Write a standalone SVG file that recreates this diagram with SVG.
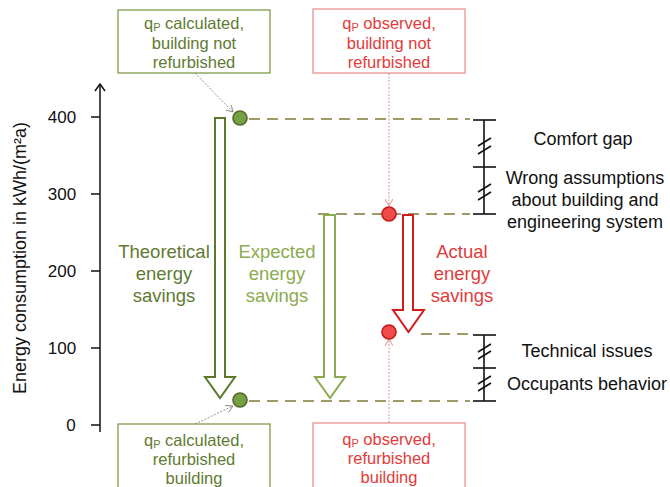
<svg xmlns="http://www.w3.org/2000/svg" width="670" height="487" viewBox="0 0 670 487">
<defs>
<style>
text{font-family:"Liberation Sans",Arial,sans-serif;text-anchor:middle}
.lab{font-size:16.5px}
.big{font-size:18.5px}
.blk{font-size:18px;fill:#111}
.num{font-size:17px;fill:#111}
.dash{stroke:#a09a66;stroke-width:2.2;stroke-dasharray:11,7;fill:none}
.br{stroke:#111;stroke-width:1.6;fill:none}
.gbox{fill:#fff;stroke:#76923c;stroke-width:1.2}
.rbox{fill:#fff;stroke:#e58a8a;stroke-width:1.2}
.gt{fill:#5f7a31}
.rt{fill:#e23b3b}
.gc{fill:#77a044;stroke:#4f6b28;stroke-width:1.6}
.rc{fill:#f04a4a;stroke:#c01818;stroke-width:1.6}
</style>
<marker id="ag" markerWidth="8" markerHeight="8" refX="7" refY="4" orient="auto" markerUnits="userSpaceOnUse"><path d="M0,0 L7,4 L0,8" fill="none" stroke="#777" stroke-width="0.8"/></marker>
<marker id="ar" markerWidth="8" markerHeight="8" refX="7" refY="4" orient="auto" markerUnits="userSpaceOnUse"><path d="M0,0 L7,4 L0,8" fill="none" stroke="#e07070" stroke-width="0.8"/></marker>
</defs>

<g id="axis">
<line x1="100" y1="84" x2="100" y2="432" stroke="#111" stroke-width="1.5"/>
<path d="M95,91 L100,84 L105,91" fill="none" stroke="#111" stroke-width="1.5"/>
<line x1="91" y1="117" x2="100" y2="117" stroke="#111" stroke-width="1.5"/>
<line x1="91" y1="194" x2="100" y2="194" stroke="#111" stroke-width="1.5"/>
<line x1="91" y1="271" x2="100" y2="271" stroke="#111" stroke-width="1.5"/>
<line x1="91" y1="348" x2="100" y2="348" stroke="#111" stroke-width="1.5"/>
<line x1="91" y1="425" x2="100" y2="425" stroke="#111" stroke-width="1.5"/>
<text class="num" x="62" y="123">400</text>
<text class="num" x="62" y="200">300</text>
<text class="num" x="62" y="277">200</text>
<text class="num" x="62" y="354">100</text>
<text class="num" x="71" y="431">0</text>
<text class="blk" transform="translate(26,258) rotate(-90)">Energy consumption in kWh/(m²a)</text>
</g>

<g id="connectors">
<line class="dash" x1="249" y1="119" x2="470" y2="119"/>
<line class="dash" x1="318" y1="214" x2="470" y2="214"/>
<line class="dash" x1="421" y1="334" x2="470" y2="334"/>
<line class="dash" x1="249" y1="401" x2="470" y2="401"/>
<line x1="195" y1="73" x2="233" y2="112" stroke="#777" stroke-width="0.8" stroke-dasharray="2,1.5" marker-end="url(#ag)"/>
<line x1="195" y1="424" x2="233" y2="406" stroke="#777" stroke-width="0.8" stroke-dasharray="2,1.5" marker-end="url(#ag)"/>
<line x1="389" y1="73" x2="389" y2="206" stroke="#e07070" stroke-width="0.8" stroke-dasharray="2,1.5" marker-end="url(#ar)"/>
<line x1="389" y1="423" x2="389" y2="339" stroke="#e07070" stroke-width="0.8" stroke-dasharray="2,1.5" marker-end="url(#ar)"/>
</g>

<g id="arrow-theoretical">
<path d="M215,118 L225,118 L225,377 L235,377 L220,398 L205,377 L215,377 Z" fill="#fff" stroke="#5a7a2a" stroke-width="2"/>
</g>
<g id="arrow-expected">
<path d="M324,215 L335,215 L335,377 L345,377 L330,398 L315,377 L324,377 Z" fill="#fff" stroke="#8aab4f" stroke-width="2"/>
</g>
<g id="arrow-actual">
<path d="M403,215 L413,215 L413,310 L424,310 L408.5,332 L393,310 L403,310 Z" fill="#fff" stroke="#d01c1c" stroke-width="2"/>
</g>

<g id="points">
<circle class="gc" cx="240" cy="118" r="7"/>
<circle class="gc" cx="240" cy="400" r="7"/>
<circle class="rc" cx="389" cy="214" r="7"/>
<circle class="rc" cx="389" cy="332" r="7"/>
</g>

<g id="bracket-upper">
<line class="br" x1="484" y1="120" x2="484" y2="214"/>
<line class="br" x1="473" y1="120" x2="496" y2="120"/>
<line class="br" x1="473" y1="167" x2="496" y2="167"/>
<line class="br" x1="473" y1="214" x2="496" y2="214"/>
<line class="br" x1="478" y1="146" x2="491" y2="138"/>
<line class="br" x1="478" y1="154" x2="491" y2="146"/>
<line class="br" x1="478" y1="192" x2="491" y2="184"/>
<line class="br" x1="478" y1="200" x2="491" y2="192"/>
</g>
<g id="bracket-lower">
<line class="br" x1="484" y1="335" x2="484" y2="401"/>
<line class="br" x1="473" y1="335" x2="496" y2="335"/>
<line class="br" x1="473" y1="368" x2="496" y2="368"/>
<line class="br" x1="473" y1="401" x2="496" y2="401"/>
<line class="br" x1="478" y1="352" x2="491" y2="344"/>
<line class="br" x1="478" y1="359" x2="491" y2="351"/>
<line class="br" x1="478" y1="384" x2="491" y2="376"/>
<line class="br" x1="478" y1="391" x2="491" y2="383"/>
</g>

<g id="label-comfort"><text class="blk" x="583" y="145">Comfort gap</text></g>
<g id="label-wrong">
<text class="blk" x="585" y="184">Wrong assumptions</text>
<text class="blk" x="585" y="206">about building and</text>
<text class="blk" x="585" y="228">engineering system</text>
</g>
<g id="label-technical"><text class="blk" x="587" y="357">Technical issues</text></g>
<g id="label-occupants"><text class="blk" x="587" y="390">Occupants behavior</text></g>

<g id="label-theoretical" class="gt">
<text class="big" x="164" y="258">Theoretical</text>
<text class="big" x="164" y="280">energy</text>
<text class="big" x="164" y="302">savings</text>
</g>
<g id="label-expected" style="fill:#8aab4f">
<text class="big" x="277" y="258">Expected</text>
<text class="big" x="277" y="280">energy</text>
<text class="big" x="277" y="302">savings</text>
</g>
<g id="label-actual" class="rt">
<text class="big" x="462" y="258">Actual</text>
<text class="big" x="462" y="280">energy</text>
<text class="big" x="462" y="302">savings</text>
</g>

<g id="box-calc-not">
<rect class="gbox" x="118" y="10" width="152" height="63"/>
<text class="lab gt" x="194" y="29">q<tspan font-size="11" dy="2">P</tspan><tspan dy="-2"> calculated,</tspan></text>
<text class="lab gt" x="194" y="49">building not</text>
<text class="lab gt" x="194" y="68">refurbished</text>
</g>
<g id="box-obs-not">
<rect class="rbox" x="313" y="9" width="152" height="64"/>
<text class="lab rt" x="389" y="29">q<tspan font-size="11" dy="2">P</tspan><tspan dy="-2"> observed,</tspan></text>
<text class="lab rt" x="389" y="49">building not</text>
<text class="lab rt" x="389" y="68">refurbished</text>
</g>
<g id="box-calc-ref">
<rect class="gbox" x="118" y="424" width="152" height="70"/>
<text class="lab gt" x="194" y="446">q<tspan font-size="11" dy="2">P</tspan><tspan dy="-2"> calculated,</tspan></text>
<text class="lab gt" x="194" y="465">refurbished</text>
<text class="lab gt" x="194" y="484">building</text>
</g>
<g id="box-obs-ref">
<rect class="rbox" x="313" y="423" width="152" height="70"/>
<text class="lab rt" x="389" y="445">q<tspan font-size="11" dy="2">P</tspan><tspan dy="-2"> observed,</tspan></text>
<text class="lab rt" x="389" y="464">refurbished</text>
<text class="lab rt" x="389" y="483">building</text>
</g>
</svg>
